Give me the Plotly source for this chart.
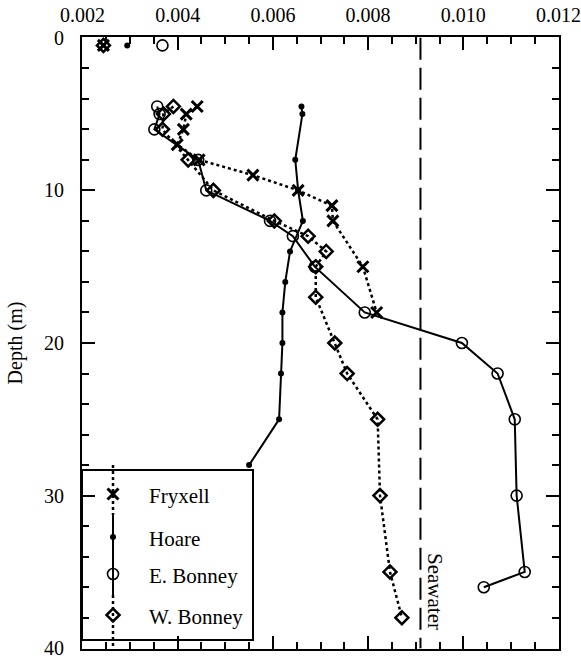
import plotly.graph_objects as go

# ---------------- data ----------------
fry_depth = [0.5, None, 4.5, 5, 6, 7, 8, 9, 10, 11, 12, 15, 18]
fry_val = [0.00244, None, 0.00441, 0.00418, 0.00412, 0.00399, 0.00445, 0.00558,
           0.00653, 0.00724, 0.00726, 0.00789, 0.00818]

hoare_depth = [0.5, None, 4.5, 5, 8, 10, 12, 14, 16, 18, 20, 22, 25, 28]
hoare_val = [0.00294, None, 0.00660, 0.00662, 0.00647, 0.00653, 0.00663, 0.00636,
             0.00626, 0.00620, 0.00620, 0.00617, 0.00613, 0.00550]

eb_depth = [0.5, None, 4.5, 5, 6, 8, 10, 12, 13, 15, 18, 20, 22, 25, 30, 35, 36]
eb_val = [0.00368, None, 0.00357, 0.00362, 0.00351, 0.00443, 0.00460, 0.00594,
          0.00642, 0.00688, 0.00793, 0.00997, 0.01072, 0.01108, 0.01112, 0.01129, 0.01043]

wb_depth = [0.5, None, 4.5, 5, 6, 8, 10, 12, 13, 14, 15, 17, 20, 22, 25, 30, 35, 38]
wb_val = [0.00244, None, 0.00391, 0.00370, 0.00368, 0.00422, 0.00475, 0.00603,
          0.00674, 0.00712, 0.00690, 0.00690, 0.00730, 0.00756, 0.00820, 0.00825,
          0.00846, 0.00871]

seawater_val = [0.0091, 0.0091]
seawater_depth = [0, 40]

series_names = ["Fryxell", "Hoare", "E. Bonney", "W. Bonney"]
x_tick_vals = [0.002, 0.004, 0.006, 0.008, 0.010, 0.012]
y_tick_vals = [0, 10, 20, 30, 40]

FONT = "Liberation Serif"
BLACK = "black"

styles = {
    "Fryxell": dict(line=dict(color=BLACK, width=2.5, dash="dot"),
                    marker=dict(symbol="x-thin-open", size=11, color=BLACK,
                                line=dict(color=BLACK, width=3))),
    "Hoare": dict(line=dict(color=BLACK, width=2),
                  marker=dict(symbol="circle", size=6, color=BLACK)),
    "E. Bonney": dict(line=dict(color=BLACK, width=2),
                      marker=dict(symbol="circle-open", size=11, color=BLACK,
                                  line=dict(color=BLACK, width=1.6))),
    "W. Bonney": dict(line=dict(color=BLACK, width=2.5, dash="dot"),
                      marker=dict(symbol="diamond-open", size=10, color=BLACK,
                                  line=dict(color=BLACK, width=2.5))),
}

fig = go.Figure()

# seawater reference line
fig.add_trace(go.Scatter(x=seawater_val, y=seawater_depth, mode="lines",
                         line=dict(color=BLACK, width=2, dash="22px,8px"),
                         showlegend=False, hoverinfo="skip"))

data = {
    "Hoare": (hoare_val, hoare_depth),
    "W. Bonney": (wb_val, wb_depth),
    "E. Bonney": (eb_val, eb_depth),
    "Fryxell": (fry_val, fry_depth),
}
for name in ["Hoare", "W. Bonney", "E. Bonney", "Fryxell"]:
    xv, yv = data[name]
    st = styles[name]
    fig.add_trace(go.Scatter(x=xv, y=yv, mode="lines+markers", name=name,
                             line=st["line"], marker=st["marker"],
                             connectgaps=False, showlegend=False))

# ---------------- custom legend (overlay axes in pixel-like units) ----------------
# x2: 0..477 px across plot area; y2: 0..612 px down plot area
box_x = [0, 171, 171, 0, 0]
box_y = [433, 433, 603, 603, 433]
fig.add_trace(go.Scatter(x=box_x, y=box_y, xaxis="x2", yaxis="y2", mode="lines",
                         fill="toself", fillcolor="white",
                         line=dict(color=BLACK, width=2),
                         showlegend=False, hoverinfo="skip"))

leg_line_x = 31
leg_segments = {
    "Fryxell": (428, 478),
    "Hoare": (478, 519),
    "E. Bonney": (519, 558),
    "W. Bonney": (558, 612),
}
leg_marker_y = {"Fryxell": 457, "Hoare": 500, "E. Bonney": 537, "W. Bonney": 578}
for name in series_names:
    st = styles[name]
    y0, y1 = leg_segments[name]
    fig.add_trace(go.Scatter(x=[leg_line_x, leg_line_x], y=[y0, y1], xaxis="x2",
                             yaxis="y2", mode="lines", line=st["line"],
                             showlegend=False, hoverinfo="skip"))
    fig.add_trace(go.Scatter(x=[leg_line_x], y=[leg_marker_y[name]], xaxis="x2",
                             yaxis="y2", mode="markers", marker=st["marker"],
                             showlegend=False, hoverinfo="skip"))
    fig.add_annotation(x=65, y=leg_marker_y[name] + 2, xref="x2", yref="y2",
                       text=name, showarrow=False, xanchor="left", yanchor="middle",
                       font=dict(family=FONT, size=21, color=BLACK))

fig.add_annotation(x=0.0094, y=36.3, xref="x", yref="y", text="Seawater",
                   textangle=90, showarrow=False, xanchor="center", yanchor="middle",
                   font=dict(family=FONT, size=21, color=BLACK))

fig.update_layout(
    width=581, height=659,
    margin=dict(l=82, r=22, t=37, b=10),
    paper_bgcolor="white", plot_bgcolor="white",
    font=dict(family=FONT, size=20, color=BLACK),
    xaxis=dict(range=[0.00199, 0.01201], side="top", tickvals=x_tick_vals,
               tickformat=".3f", ticks="inside", ticklen=13, tickwidth=1.5,
               tickcolor=BLACK, showline=True, linewidth=2, linecolor=BLACK,
               mirror="ticks", showgrid=False, zeroline=False, ticklabelstandoff=5,
               ticklabeloverflow="allow", automargin=False,
               tickfont=dict(family=FONT, size=20, color=BLACK),
               minor=dict(dtick=0.0005, ticks="inside", ticklen=7, tickwidth=1.5,
                          tickcolor=BLACK, showgrid=False)),
    yaxis=dict(range=[40.05, -0.05], tickvals=y_tick_vals, ticks="inside", ticklen=13,
               tickwidth=1.5, tickcolor=BLACK, showline=True, linewidth=2,
               linecolor=BLACK, mirror="ticks", showgrid=False, zeroline=False,
               ticklabelstandoff=12, ticklabeloverflow="allow", automargin=False,
               tickfont=dict(family=FONT, size=20, color=BLACK),
               title=dict(text="Depth (m)", font=dict(family=FONT, size=20, color=BLACK),
                          standoff=16),
               minor=dict(dtick=2, ticks="inside", ticklen=7, tickwidth=1.5,
                          tickcolor=BLACK, showgrid=False)),
    xaxis2=dict(range=[0, 477], overlaying="x", visible=False, anchor="y2"),
    yaxis2=dict(range=[612, 0], overlaying="y", visible=False, anchor="x2"),
)

fig.write_html("out.html")
